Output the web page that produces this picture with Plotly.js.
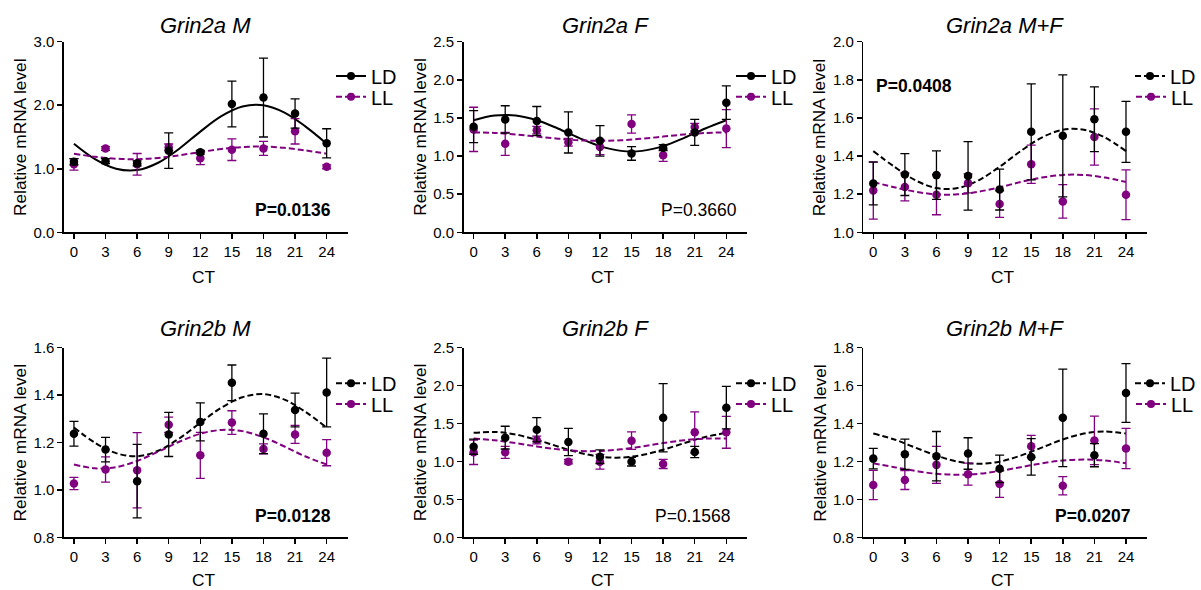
<!DOCTYPE html>
<html><head><meta charset="utf-8">
<script src="https://cdn.plot.ly/plotly-3.0.1.min.js"></script>
<style>html,body{margin:0;padding:0;background:#fff}#chart{width:1201px;height:590px}</style>
</head><body><div id="chart"></div>
<script>
// ---- Data ----
const CT = [0, 3, 6, 9, 12, 15, 18, 21, 24];
const CT_TICKS = [0, 3, 6, 9, 12, 15, 18, 21, 24];
const FIT_T = [0, 2, 4, 6, 8, 10, 12, 14, 16, 18, 20, 22, 24];

// Grin2a M
const g2aM_LD     = [1.11, 1.12, 1.085, 1.285, 1.26, 2.02, 2.12, 1.87, 1.40];
const g2aM_LD_err = [0.05, 0.04, 0.04, 0.28, 0.03, 0.36, 0.62, 0.23, 0.23];
const g2aM_LL     = [1.07, 1.32, 1.07, 1.34, 1.165, 1.30, 1.32, 1.59, 1.03];
const g2aM_LL_err = [0.09, 0.03, 0.17, 0.05, 0.10, 0.17, 0.11, 0.20, 0.03];
const g2aM_LD_fit = [1.395, 1.152, 1.000, 0.979, 1.095, 1.316, 1.585, 1.828, 1.980, 2.001, 1.885, 1.664, 1.395];
const g2aM_LL_fit = [1.237, 1.189, 1.158, 1.151, 1.171, 1.212, 1.263, 1.311, 1.342, 1.349, 1.329, 1.288, 1.237];

// Grin2a F
const g2aF_LD     = [1.385, 1.48, 1.46, 1.31, 1.20, 1.035, 1.11, 1.31, 1.70];
const g2aF_LD_err = [0.21, 0.18, 0.19, 0.27, 0.20, 0.09, 0.04, 0.17, 0.22];
const g2aF_LL     = [1.35, 1.16, 1.34, 1.18, 1.12, 1.42, 1.01, 1.38, 1.36];
const g2aF_LL_err = [0.29, 0.15, 0.05, 0.05, 0.10, 0.12, 0.08, 0.05, 0.25];
const g2aF_LD_fit = [1.470, 1.532, 1.532, 1.470, 1.362, 1.238, 1.130, 1.068, 1.068, 1.130, 1.238, 1.362, 1.470];
const g2aF_LL_fit = [1.310, 1.303, 1.283, 1.255, 1.228, 1.207, 1.200, 1.207, 1.228, 1.255, 1.283, 1.303, 1.310];

// Grin2a M+F
const g2aMF_LD     = [1.256, 1.303, 1.30, 1.296, 1.224, 1.527, 1.506, 1.593, 1.527];
const g2aMF_LD_err = [0.112, 0.11, 0.127, 0.18, 0.107, 0.252, 0.32, 0.17, 0.16];
const g2aMF_LL     = [1.219, 1.238, 1.197, 1.257, 1.148, 1.357, 1.162, 1.50, 1.197];
const g2aMF_LL_err = [0.15, 0.073, 0.105, 0.05, 0.07, 0.10, 0.088, 0.148, 0.13];
const g2aMF_LD_fit = [1.426, 1.344, 1.273, 1.232, 1.232, 1.273, 1.344, 1.426, 1.497, 1.538, 1.538, 1.497, 1.426];
const g2aMF_LL_fit = [1.264, 1.236, 1.213, 1.199, 1.199, 1.213, 1.236, 1.264, 1.287, 1.301, 1.301, 1.287, 1.264];

// Grin2b M
const g2bM_LD     = [1.237, 1.170, 1.037, 1.234, 1.287, 1.452, 1.237, 1.337, 1.411];
const g2bM_LD_err = [0.052, 0.052, 0.155, 0.093, 0.08, 0.075, 0.084, 0.071, 0.145];
const g2bM_LL     = [1.027, 1.086, 1.083, 1.275, 1.146, 1.284, 1.173, 1.234, 1.157];
const g2bM_LL_err = [0.026, 0.053, 0.159, 0.032, 0.097, 0.05, 0.021, 0.038, 0.055];
const g2bM_LD_fit = [1.263, 1.199, 1.155, 1.142, 1.165, 1.217, 1.283, 1.347, 1.391, 1.404, 1.381, 1.329, 1.263];
const g2bM_LL_fit = [1.107, 1.091, 1.096, 1.122, 1.161, 1.203, 1.237, 1.253, 1.248, 1.222, 1.183, 1.141, 1.107];

// Grin2b F
const g2bF_LD     = [1.195, 1.314, 1.419, 1.257, 1.063, 0.997, 1.577, 1.125, 1.709];
const g2bF_LD_err = [0.10, 0.15, 0.16, 0.18, 0.09, 0.057, 0.45, 0.075, 0.28];
const g2bF_LL     = [1.12, 1.12, 1.283, 0.997, 0.997, 1.274, 0.967, 1.384, 1.384];
const g2bF_LL_err = [0.16, 0.08, 0.05, 0.03, 0.097, 0.115, 0.06, 0.27, 0.21];
const g2bF_LD_fit = [1.377, 1.389, 1.355, 1.285, 1.198, 1.117, 1.063, 1.051, 1.085, 1.155, 1.242, 1.323, 1.377];
const g2bF_LL_fit = [1.302, 1.280, 1.242, 1.198, 1.160, 1.138, 1.138, 1.160, 1.198, 1.242, 1.280, 1.302, 1.302];

// Grin2b M+F
const g2bMF_LD     = [1.215, 1.238, 1.228, 1.242, 1.161, 1.224, 1.43, 1.233, 1.561];
const g2bMF_LD_err = [0.054, 0.08, 0.13, 0.083, 0.072, 0.096, 0.257, 0.061, 0.155];
const g2bMF_LL     = [1.076, 1.102, 1.182, 1.133, 1.081, 1.28, 1.072, 1.311, 1.268];
const g2bMF_LL_err = [0.077, 0.05, 0.098, 0.058, 0.07, 0.058, 0.048, 0.128, 0.106];
const g2bMF_LD_fit = [1.347, 1.316, 1.273, 1.231, 1.199, 1.188, 1.199, 1.231, 1.273, 1.316, 1.347, 1.358, 1.347];
const g2bMF_LL_fit = [1.190, 1.170, 1.150, 1.135, 1.130, 1.135, 1.150, 1.170, 1.190, 1.205, 1.210, 1.205, 1.190];

const titles  = ["Grin2a M", "Grin2a F", "Grin2a M+F", "Grin2b M", "Grin2b F", "Grin2b M+F"];
const pLabels = ["P=0.0136", "P=0.3660", "P=0.0408", "P=0.0128", "P=0.1568", "P=0.0207"];
const pBold   = [true, false, true, true, false, true];
const yTitle  = "Relative mRNA level";
const xTitle  = "CT";
const yRanges = [[0, 3], [0, 2.5], [1, 2], [0.8, 1.6], [0, 2.5], [0.8, 1.8]];
const yDticks = [1, 0.5, 0.2, 0.2, 0.5, 0.2];
const ldSolid = [true, true, false, false, false, false];

const panels = [
  {ld: g2aM_LD,  ldE: g2aM_LD_err,  ll: g2aM_LL,  llE: g2aM_LL_err,  ldF: g2aM_LD_fit,  llF: g2aM_LL_fit},
  {ld: g2aF_LD,  ldE: g2aF_LD_err,  ll: g2aF_LL,  llE: g2aF_LL_err,  ldF: g2aF_LD_fit,  llF: g2aF_LL_fit},
  {ld: g2aMF_LD, ldE: g2aMF_LD_err, ll: g2aMF_LL, llE: g2aMF_LL_err, ldF: g2aMF_LD_fit, llF: g2aMF_LL_fit},
  {ld: g2bM_LD,  ldE: g2bM_LD_err,  ll: g2bM_LL,  llE: g2bM_LL_err,  ldF: g2bM_LD_fit,  llF: g2bM_LL_fit},
  {ld: g2bF_LD,  ldE: g2bF_LD_err,  ll: g2bF_LL,  llE: g2bF_LL_err,  ldF: g2bF_LD_fit,  llF: g2bF_LL_fit},
  {ld: g2bMF_LD, ldE: g2bMF_LD_err, ll: g2bMF_LL, llE: g2bMF_LL_err, ldF: g2bMF_LD_fit, llF: g2bMF_LL_fit}
];

// ---- Layout geometry ----
const W = 1201, H = 590;
const FONT = "Liberation Sans, Arial, Helvetica, sans-serif";
const BLACK = "#000000", PURPLE = "#800080";
const colPx = [[64, 348], [464, 748], [864, 1148]];
const rowPx = [[41.7, 232.3], [347.7, 537.3]]; // top, bottom
const titleY = [25, 328];
const ctY = [277, 580];
const ctXfrac = 0.491;
const yTitleX = 20;
const legY = [[76, 96.7], [383.3, 404]];
const pPos = [
  {x: 0.947, y: 0.117, xa: "right"},
  {x: 0.972, y: 0.117, xa: "right"},
  {x: 0.039, y: 0.768, xa: "left"},
  {x: 0.947, y: 0.112, xa: "right"},
  {x: 0.947, y: 0.112, xa: "right"},
  {x: 0.947, y: 0.112, xa: "right"}
];

const data = [];
const layout = {
  width: W, height: H,
  margin: {l: 0, r: 0, t: 0, b: 0},
  paper_bgcolor: "#ffffff", plot_bgcolor: "#ffffff",
  font: {family: FONT, color: BLACK, size: 15},
  showlegend: true,
  annotations: []
};

panels.forEach((p, i) => {
  const c = i % 3, r = Math.floor(i / 3);
  const n = i + 1;
  const xa = n === 1 ? "x" : "x" + n;
  const ya = n === 1 ? "y" : "y" + n;
  const xk = n === 1 ? "xaxis" : "xaxis" + n;
  const yk = n === 1 ? "yaxis" : "yaxis" + n;

  layout[xk] = {
    domain: [colPx[c][0] / W, colPx[c][1] / W],
    anchor: ya,
    range: [-0.95, 26],
    tickvals: CT_TICKS, ticktext: CT_TICKS.map(String),
    ticks: "outside", ticklen: 5, tickwidth: 1.5, tickcolor: BLACK,
    showline: true, linecolor: BLACK, linewidth: 1.5,
    showgrid: false, zeroline: false,
    tickfont: {size: 15, family: FONT, color: BLACK},
    fixedrange: true
  };
  layout[yk] = {
    domain: [1 - rowPx[r][1] / H, 1 - rowPx[r][0] / H],
    anchor: xa,
    range: yRanges[i],
    dtick: yDticks[i], tick0: 0, tickformat: ".1f",
    ticks: "outside", ticklen: 5, tickwidth: 1.5, tickcolor: BLACK,
    showline: true, linecolor: BLACK, linewidth: 1.5,
    showgrid: false, zeroline: false,
    tickfont: {size: 15, family: FONT, color: BLACK},
    fixedrange: true
  };

  const ldDash = ldSolid[i] ? "solid" : "6px,3px";
  const llDash = "6px,3px";

  // fitted curves
  data.push({x: FIT_T, y: p.ldF, xaxis: xa, yaxis: ya, mode: "lines", type: "scatter",
    line: {color: BLACK, width: 2, dash: ldDash, shape: "spline", smoothing: 1.0},
    showlegend: false, hoverinfo: "skip"});
  data.push({x: FIT_T, y: p.llF, xaxis: xa, yaxis: ya, mode: "lines", type: "scatter",
    line: {color: PURPLE, width: 2, dash: llDash, shape: "spline", smoothing: 1.0},
    showlegend: false, hoverinfo: "skip"});

  // data points with error bars
  data.push({x: CT, y: p.ll, xaxis: xa, yaxis: ya, mode: "markers", type: "scatter",
    marker: {color: PURPLE, size: 8.5},
    error_y: {type: "data", array: p.llE, visible: true, color: PURPLE, thickness: 1.3, width: 4.5},
    cliponaxis: false, showlegend: false, name: "LL"});
  data.push({x: CT, y: p.ld, xaxis: xa, yaxis: ya, mode: "markers", type: "scatter",
    marker: {color: BLACK, size: 8.5},
    error_y: {type: "data", array: p.ldE, visible: true, color: BLACK, thickness: 1.3, width: 4.5},
    cliponaxis: false, showlegend: false, name: "LD"});

  // legend entries (one legend per entry for exact placement)
  const lgA = "legend" + (2 * i + 1 === 1 ? "" : (2 * i + 1));
  const lgB = "legend" + (2 * i + 2);
  data.push({x: [null], y: [null], xaxis: xa, yaxis: ya, mode: "lines+markers", type: "scatter",
    name: "LD", line: {color: BLACK, width: 2, dash: ldDash}, marker: {color: BLACK, size: 8},
    legend: lgA, showlegend: true});
  data.push({x: [null], y: [null], xaxis: xa, yaxis: ya, mode: "lines+markers", type: "scatter",
    name: "LL", line: {color: PURPLE, width: 2, dash: llDash}, marker: {color: PURPLE, size: 8},
    legend: lgB, showlegend: true});
  const legBase = {xanchor: "left", yanchor: "middle", bgcolor: "rgba(0,0,0,0)", borderwidth: 0,
    font: {size: 20, family: FONT, color: BLACK}, itemclick: false, itemdoubleclick: false};
  layout[lgA] = Object.assign({}, legBase, {x: (colPx[c][1] - 17) / W, y: 1 - legY[r][0] / H});
  layout[lgB] = Object.assign({}, legBase, {x: (colPx[c][1] - 17) / W, y: 1 - legY[r][1] / H});

  // subplot title
  layout.annotations.push({text: "<i>" + titles[i] + "</i>", xref: xa + " domain", x: 0.5,
    yref: "paper", y: 1 - titleY[r] / H, xanchor: "center", yanchor: "middle", showarrow: false,
    font: {size: 22, family: FONT, color: BLACK}});
  // axis titles
  layout.annotations.push({text: xTitle, xref: xa + " domain", x: ctXfrac,
    yref: "paper", y: 1 - ctY[r] / H, xanchor: "center", yanchor: "middle", showarrow: false,
    font: {size: 17.3, family: FONT, color: BLACK}});
  layout.annotations.push({text: yTitle, textangle: -90, xref: "paper",
    x: (colPx[c][0] - 64 + yTitleX) / W, yref: ya + " domain", y: 0.5,
    xanchor: "center", yanchor: "middle", showarrow: false,
    font: {size: 17.3, family: FONT, color: BLACK}});
  // P value
  layout.annotations.push({text: pBold[i] ? "<b>" + pLabels[i] + "</b>" : pLabels[i],
    xref: xa + " domain", x: pPos[i].x, yref: ya + " domain", y: pPos[i].y,
    xanchor: pPos[i].xa, yanchor: "middle", showarrow: false,
    font: {size: 17.5, family: FONT, color: BLACK}});
});

Plotly.newPlot("chart", data, layout, {displayModeBar: false, staticPlot: true});
</script>
</body></html>
